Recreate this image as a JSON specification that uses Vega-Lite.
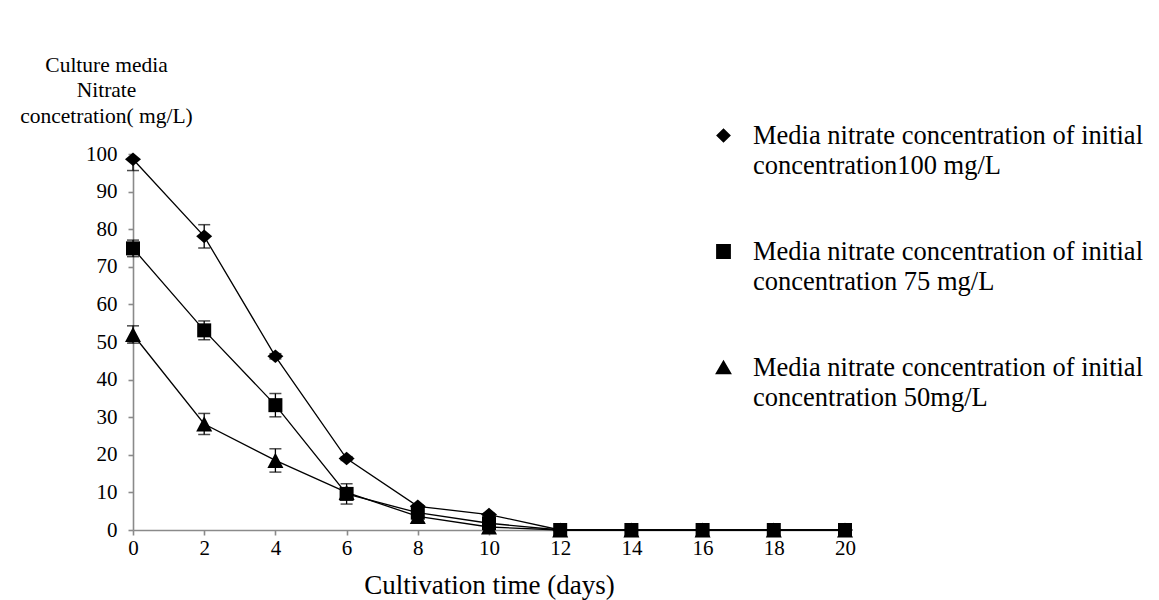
{
  "$schema": "https://vega.github.io/schema/vega-lite/v6.json",
  "width": 712,
  "height": 376,
  "autosize": {"type": "none"},
  "padding": {"left": 133, "top": 154, "right": 314, "bottom": 70},
  "background": "white",
  "config": {
    "view": {"stroke": null},
    "font": "Liberation Serif",
    "axis": {
      "labelFont": "Liberation Serif",
      "labelFontSize": 21,
      "labelColor": "black",
      "labelOverlap": false,
      "titleFont": "Liberation Serif",
      "titleFontWeight": "normal",
      "titleColor": "black"
    },
    "style": {
      "guide-label": {"lineHeight": 30}
    }
  },
  "data": {
    "values": [
      {"day": 0, "series": "concentration100 mg/L", "value": 98.6, "lo": 95.6, "hi": 98.6},
      {"day": 2, "series": "concentration100 mg/L", "value": 78.1, "lo": 75.0, "hi": 81.2},
      {"day": 4, "series": "concentration100 mg/L", "value": 46.2, "lo": 45.5, "hi": 46.9},
      {"day": 6, "series": "concentration100 mg/L", "value": 19.0, "lo": 18.5, "hi": 19.5},
      {"day": 8, "series": "concentration100 mg/L", "value": 6.3, "lo": 6.0, "hi": 6.6},
      {"day": 10, "series": "concentration100 mg/L", "value": 4.1, "lo": 3.8, "hi": 4.4},
      {"day": 12, "series": "concentration100 mg/L", "value": 0, "lo": 0, "hi": 0},
      {"day": 14, "series": "concentration100 mg/L", "value": 0, "lo": 0, "hi": 0},
      {"day": 16, "series": "concentration100 mg/L", "value": 0, "lo": 0, "hi": 0},
      {"day": 18, "series": "concentration100 mg/L", "value": 0, "lo": 0, "hi": 0},
      {"day": 20, "series": "concentration100 mg/L", "value": 0, "lo": 0, "hi": 0},
      {"day": 0, "series": "concentration 75 mg/L", "value": 74.9, "lo": 72.7, "hi": 77.1},
      {"day": 2, "series": "concentration 75 mg/L", "value": 53.1, "lo": 50.6, "hi": 55.6},
      {"day": 4, "series": "concentration 75 mg/L", "value": 33.2, "lo": 30.1, "hi": 36.3},
      {"day": 6, "series": "concentration 75 mg/L", "value": 9.6, "lo": 6.9, "hi": 12.3},
      {"day": 8, "series": "concentration 75 mg/L", "value": 4.6, "lo": 4.1, "hi": 5.1},
      {"day": 10, "series": "concentration 75 mg/L", "value": 1.8, "lo": 1.4, "hi": 2.2},
      {"day": 12, "series": "concentration 75 mg/L", "value": 0, "lo": 0, "hi": 0},
      {"day": 14, "series": "concentration 75 mg/L", "value": 0, "lo": 0, "hi": 0},
      {"day": 16, "series": "concentration 75 mg/L", "value": 0, "lo": 0, "hi": 0},
      {"day": 18, "series": "concentration 75 mg/L", "value": 0, "lo": 0, "hi": 0},
      {"day": 20, "series": "concentration 75 mg/L", "value": 0, "lo": 0, "hi": 0},
      {"day": 0, "series": "concentration 50mg/L", "value": 52.0, "lo": 49.7, "hi": 54.3},
      {"day": 2, "series": "concentration 50mg/L", "value": 28.2, "lo": 25.4, "hi": 31.0},
      {"day": 4, "series": "concentration 50mg/L", "value": 18.5, "lo": 15.4, "hi": 21.6},
      {"day": 6, "series": "concentration 50mg/L", "value": 10.0, "lo": 9.4, "hi": 10.6},
      {"day": 8, "series": "concentration 50mg/L", "value": 3.6, "lo": 3.2, "hi": 4.0},
      {"day": 10, "series": "concentration 50mg/L", "value": 0.8, "lo": 0.4, "hi": 1.2},
      {"day": 12, "series": "concentration 50mg/L", "value": 0, "lo": 0, "hi": 0},
      {"day": 14, "series": "concentration 50mg/L", "value": 0, "lo": 0, "hi": 0},
      {"day": 16, "series": "concentration 50mg/L", "value": 0, "lo": 0, "hi": 0},
      {"day": 18, "series": "concentration 50mg/L", "value": 0, "lo": 0, "hi": 0},
      {"day": 20, "series": "concentration 50mg/L", "value": 0, "lo": 0, "hi": 0}
    ]
  },
  "encoding": {
    "x": {
      "field": "day",
      "type": "quantitative",
      "scale": {"domain": [0, 20]},
      "axis": {
        "values": [0, 2, 4, 6, 8, 10, 12, 14, 16, 18, 20],
        "grid": false,
        "domainColor": "#8a8a8a",
        "domainWidth": 1.6,
        "tickColor": "#8a8a8a",
        "tickWidth": 1.6,
        "tickSize": 5,
        "labelFont": "Liberation Serif",
        "labelFontSize": 21,
        "labelColor": "black",
        "labelOverlap": false,
        "labelFlush": false,
        "labelPadding": 2,
        "title": "Cultivation time (days)",
        "titleFont": "Liberation Serif",
        "titleFontWeight": "normal",
        "titleColor": "black",
        "titleFontSize": 27,
        "titleBaseline": "alphabetic",
        "titleY": 63
      }
    },
    "y": {
      "field": "value",
      "type": "quantitative",
      "scale": {"domain": [0, 100]},
      "axis": {
        "values": [0, 10, 20, 30, 40, 50, 60, 70, 80, 90, 100],
        "grid": false,
        "domainColor": "#8a8a8a",
        "domainWidth": 1.6,
        "tickColor": "#8a8a8a",
        "tickWidth": 1.6,
        "tickSize": 5,
        "labelFont": "Liberation Serif",
        "labelFontSize": 21,
        "labelColor": "black",
        "labelOverlap": false,
        "labelFlush": false,
        "labelPadding": 11,
        "title": ["Culture media", "Nitrate", "concetration( mg/L)"],
        "titleFont": "Liberation Serif",
        "titleFontWeight": "normal",
        "titleColor": "black",
        "titleFontSize": 21.5,
        "titleAngle": 0,
        "titleAlign": "center",
        "titleBaseline": "alphabetic",
        "titleLineHeight": 25.5,
        "titleX": -27,
        "titleY": -83
      }
    }
  },
  "layer": [
    {
      "mark": {"type": "line", "color": "black", "strokeWidth": 1.3},
      "encoding": {"detail": {"field": "series"}}
    },
    {
      "mark": {"type": "rule", "color": "black", "strokeWidth": 1.3},
      "encoding": {
        "y": {"field": "lo", "type": "quantitative"},
        "y2": {"field": "hi"}
      }
    },
    {
      "mark": {"type": "tick", "orient": "horizontal", "color": "black", "size": 12, "thickness": 1.5},
      "encoding": {"y": {"field": "lo", "type": "quantitative"}}
    },
    {
      "mark": {"type": "tick", "orient": "horizontal", "color": "black", "size": 12, "thickness": 1.5},
      "encoding": {"y": {"field": "hi", "type": "quantitative"}}
    },
    {
      "mark": {"type": "point", "filled": true, "color": "black", "opacity": 1, "size": 256},
      "encoding": {
        "shape": {
          "field": "series",
          "type": "nominal",
          "scale": {
            "domain": ["concentration100 mg/L", "concentration 75 mg/L", "concentration 50mg/L"],
            "range": [
              "M0,-0.85L1,0L0,0.85L-1,0Z",
              "M-0.875,-0.875H0.875V0.875H-0.875Z",
              "M0,-0.95L1,0.95L-1,0.95Z"
            ]
          },
          "legend": null
        }
      }
    },
    {
      "mark": {"type": "point", "filled": false, "fill": "black", "stroke": "black", "strokeWidth": 1.3, "opacity": 0, "size": 2601},
      "encoding": {
        "shape": {
          "field": "series",
          "type": "nominal",
          "scale": {
            "domain": ["concentration100 mg/L", "concentration 75 mg/L", "concentration 50mg/L"],
            "range": [
              "M-1,0H1M0,-0.28L0.29,0L0,0.28L-0.29,0Z",
              "M-1,0H1M-0.29,-0.29H0.29V0.29H-0.29Z",
              "M-1,0H1M0,-0.3L0.33,0.26L-0.33,0.26Z"
            ]
          },
          "legend": {
            "title": null,
            "orient": "none",
            "legendX": 564,
            "legendY": -45,
            "direction": "vertical",
            "padding": 0,
            "rowPadding": 46,
            "symbolSize": 2601,
            "symbolStrokeWidth": 1.3,
            "symbolFillColor": "black",
            "symbolStrokeColor": "black",
            "symbolOpacity": 1,
            "labelFont": "Liberation Serif",
            "labelFontSize": 26.5,
            "labelColor": "black",
            "labelLimit": 0,
            "labelOffset": 3,
            "labelExpr": "['Media nitrate concentration of initial', datum.label]"
          }
        }
      }
    }
  ],
  "resolve": {"scale": {"shape": "independent"}, "legend": {"shape": "independent"}}
}
